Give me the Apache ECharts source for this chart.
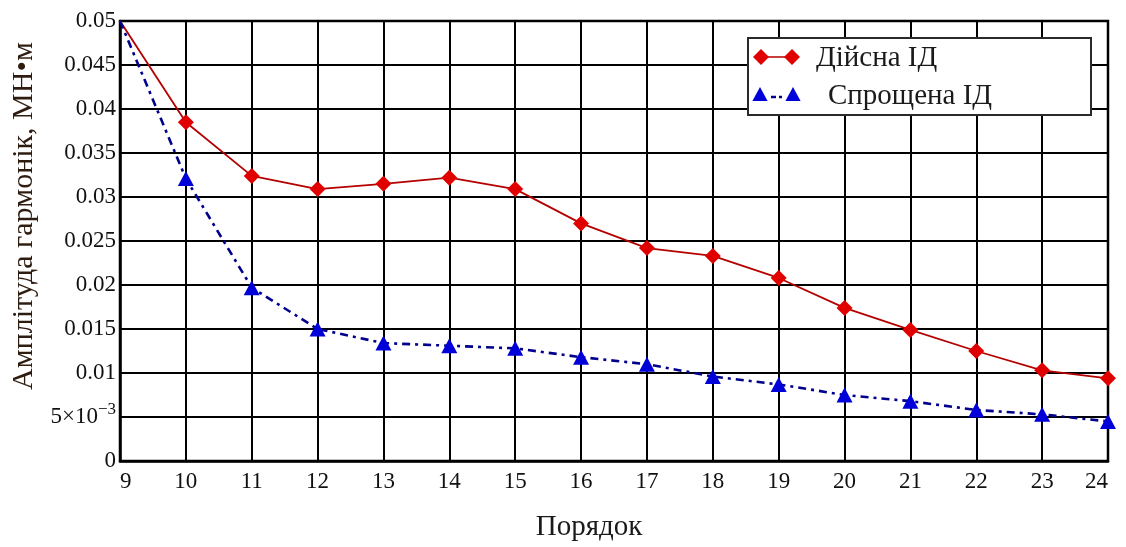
<!DOCTYPE html>
<html>
<head>
<meta charset="utf-8">
<script src="https://cdn.jsdelivr.net/npm/echarts@6/dist/echarts.min.js"></script>
<style>
  html, body { margin: 0; padding: 0; background: #fff; }
  #chart { width: 1126px; height: 547px; }
</style>
</head>
<body>
<div id="chart"></div>
<script>
// Harmonic orders on the horizontal axis
const orders = [9, 10, 11, 12, 13, 14, 15, 16, 17, 18, 19, 20, 21, 22, 23, 24];

// Harmonic amplitudes, MN·m
const realValues = [0.05, 0.0385, 0.0324, 0.0309, 0.0315, 0.0322, 0.0309, 0.0270,
                    0.0242, 0.0233, 0.0208, 0.0174, 0.0149, 0.0125, 0.0103, 0.0094];
const simpleValues = [0.05, 0.0321, 0.0197, 0.0150, 0.0134, 0.0131, 0.0128, 0.0118,
                      0.0110, 0.0096, 0.0087, 0.0075, 0.0068, 0.0058, 0.0053, 0.0045];

const seriesNames = ['Дійсна ІД', 'Спрощена ІД'];

// Y tick labels, from 0 upward in steps of 0.005
const yTickLabels = ['0', '{a|5×10}{s|−3}', '0.01', '0.015', '0.02', '0.025',
                     '0.03', '0.035', '0.04', '0.045', '0.05'];

const xTitle = 'Порядок';
const yTitle = 'Амплітуда гармонік, МН•м';

const FONT = '"Liberation Serif", "DejaVu Serif", serif';
const RED_LINE = '#b40000';
const RED_MARK = '#e00000';
const BLUE_LINE = '#00008c';
const BLUE_MARK = '#0000d8';
const BLUE_DASH = [8, 5, 3, 5];

function pairs(values) {
  return values.map((v, i) => {
    // the opening point at order 9 carries no marker
    if (i === 0) return { value: [orders[i], v], symbol: 'none' };
    return [orders[i], v];
  });
}

const chart = echarts.init(document.getElementById('chart'), null, { renderer: 'canvas' });

// Legend box: line sample with a marker at each end
const LX = 748, LY = 38, LW = 343, LH = 77;
const row1 = 57, row2 = 95;
function diamond(cx, cy, r, color) {
  return { type: 'polygon', shape: { points: [[cx, cy - r], [cx + r, cy], [cx, cy + r], [cx - r, cy]] },
           style: { fill: color }, z: 101 };
}
function triangle(cx, cy, r, color) {
  return { type: 'polygon', shape: { points: [[cx, cy - r], [cx + r * 0.95, cy + r * 0.75], [cx - r * 0.95, cy + r * 0.75]] },
           style: { fill: color }, z: 101 };
}

const legendGraphic = [
  { type: 'rect', shape: { x: LX, y: LY, width: LW, height: LH },
    style: { fill: '#fff', stroke: '#2a2a2a', lineWidth: 2 }, z: 100 },
  { type: 'line', shape: { x1: 761, y1: row1, x2: 792, y2: row1 },
    style: { stroke: RED_LINE, lineWidth: 1.5 }, z: 101 },
  diamond(761, row1, 8, RED_MARK),
  diamond(792, row1, 8, RED_MARK),
  { type: 'text', x: 816, y: row1 + 1, z: 101,
    style: { text: seriesNames[0], font: '29px ' + FONT, fill: '#1a1a1a', verticalAlign: 'middle' } },
  { type: 'line', shape: { x1: 771, y1: row2 + 2, x2: 782, y2: row2 + 2 },
    style: { stroke: BLUE_LINE, lineWidth: 2.5, lineDash: [5, 3] }, z: 101 },
  triangle(760, row2, 8, BLUE_MARK),
  triangle(793, row2, 8, BLUE_MARK),
  { type: 'text', x: 828, y: row2 + 1, z: 101,
    style: { text: seriesNames[1], font: '29px ' + FONT, fill: '#1a1a1a', verticalAlign: 'middle' } }
];

const option = {
  backgroundColor: '#fff',
  animation: false,
  grid: { left: 120, right: 18, top: 21, bottom: 82, show: true,
          borderColor: '#000', borderWidth: 2.5, backgroundColor: 'transparent' },
  xAxis: {
    type: 'value', min: 9, max: 24, interval: 1,
    name: xTitle, nameLocation: 'middle', nameGap: 52,
    nameTextStyle: { fontFamily: FONT, fontSize: 29, color: '#1a1a1a', padding: [0, 50, 0, 0] },
    axisLine: { show: true, lineStyle: { color: '#000', width: 2.5 } },
    axisTick: { show: false },
    axisLabel: { fontFamily: FONT, fontSize: 23, color: '#111', margin: 9,
                 alignMinLabel: 'left', alignMaxLabel: 'right' },
    splitLine: { show: true, lineStyle: { color: '#000', width: 2 } }
  },
  yAxis: {
    type: 'value', min: 0, max: 0.05, interval: 0.005,
    name: yTitle, nameLocation: 'middle', nameGap: 81, nameRotate: 90,
    nameTextStyle: { fontFamily: FONT, fontSize: 30, color: '#2e1c10', padding: [0, 0, 0, 50] },
    axisLine: { show: true, lineStyle: { color: '#000', width: 2.5 } },
    axisTick: { show: false },
    axisLabel: {
      fontFamily: FONT, fontSize: 23, color: '#111', margin: 4,
      formatter: v => yTickLabels[Math.round(v / 0.005)],
      rich: {
        a: { fontFamily: FONT, fontSize: 23, color: '#111' },
        s: { fontFamily: FONT, fontSize: 17, color: '#111', padding: [0, 0, 14, 0] }
      }
    },
    splitLine: { show: true, lineStyle: { color: '#000', width: 2 } }
  },
  series: [
    {
      name: seriesNames[0], type: 'line', data: pairs(realValues),
      symbol: 'diamond', symbolSize: [16, 16], clip: true,
      lineStyle: { color: RED_LINE, width: 1.8 },
      itemStyle: { color: RED_MARK },
      z: 3
    },
    {
      name: seriesNames[1], type: 'line', data: pairs(simpleValues),
      symbol: 'triangle', symbolSize: [16, 15], clip: true,
      lineStyle: { color: BLUE_LINE, width: 2.6, type: BLUE_DASH },
      itemStyle: { color: BLUE_MARK },
      z: 4
    }
  ],
  graphic: legendGraphic
};

chart.setOption(option);
</script>
</body>
</html>
